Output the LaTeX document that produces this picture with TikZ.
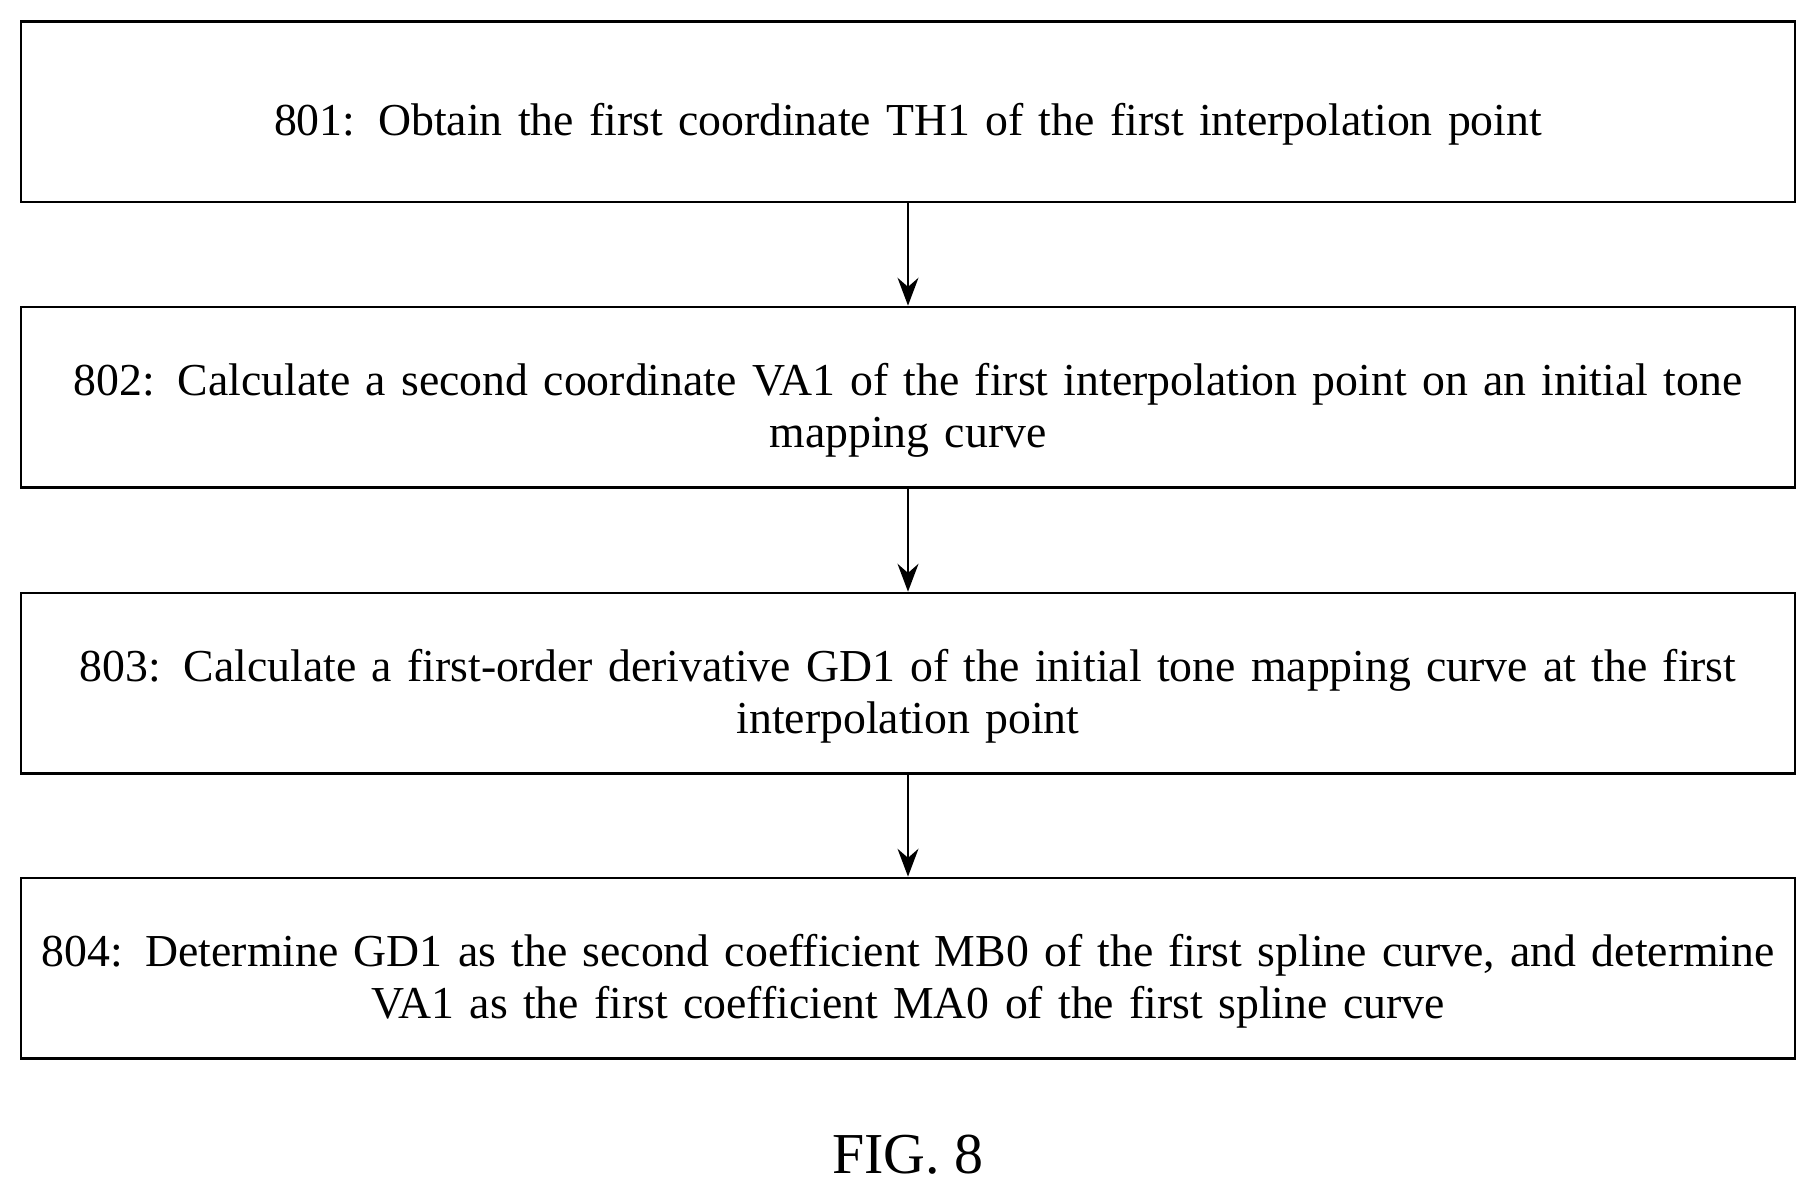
\documentclass[tikz,border=0pt]{standalone}
\usepackage{fontspec}
\setmainfont{Liberation Serif}
\usetikzlibrary{arrows.meta}
\begin{document}
\begin{tikzpicture}[x=1pt,y=-1pt,
  stepbox/.style={draw,line width=2.2pt,minimum width=1532pt,minimum height=156pt,text width=1525pt,align=center,font=\fontsize{39.5}{45}\selectfont,inner sep=0pt},
  conn/.style={line width=2.4pt,-{Stealth[length=24pt,width=18pt]}}]
\useasboundingbox (0,0) rectangle (1568,1032);
\node[stepbox] (a) at (784,96.5) {\rule{0pt}{50pt}801: Obtain the first coordinate TH1 of the first interpolation point};
\node[stepbox] (b) at (784,343) {\rule{0pt}{50pt}802: Calculate a second coordinate VA1 of the first interpolation point on an initial tone\\ mapping curve};
\node[stepbox] (c) at (784,590) {\rule{0pt}{50pt}803: Calculate a first-order derivative GD1 of the initial tone mapping curve at the first\\ interpolation point};
\node[stepbox] (d) at (784,836) {\rule{0pt}{50pt}804: Determine GD1 as the second coefficient MB0 of the first spline curve, and determine\\ VA1 as the first coefficient MA0 of the first spline curve};
\draw[conn] (a) -- (b);
\draw[conn] (b) -- (c);
\draw[conn] (c) -- (d);
\node[font=\fontsize{50}{54}\selectfont] (f) at (784,997) {FIG. 8};
\end{tikzpicture}
\end{document}
